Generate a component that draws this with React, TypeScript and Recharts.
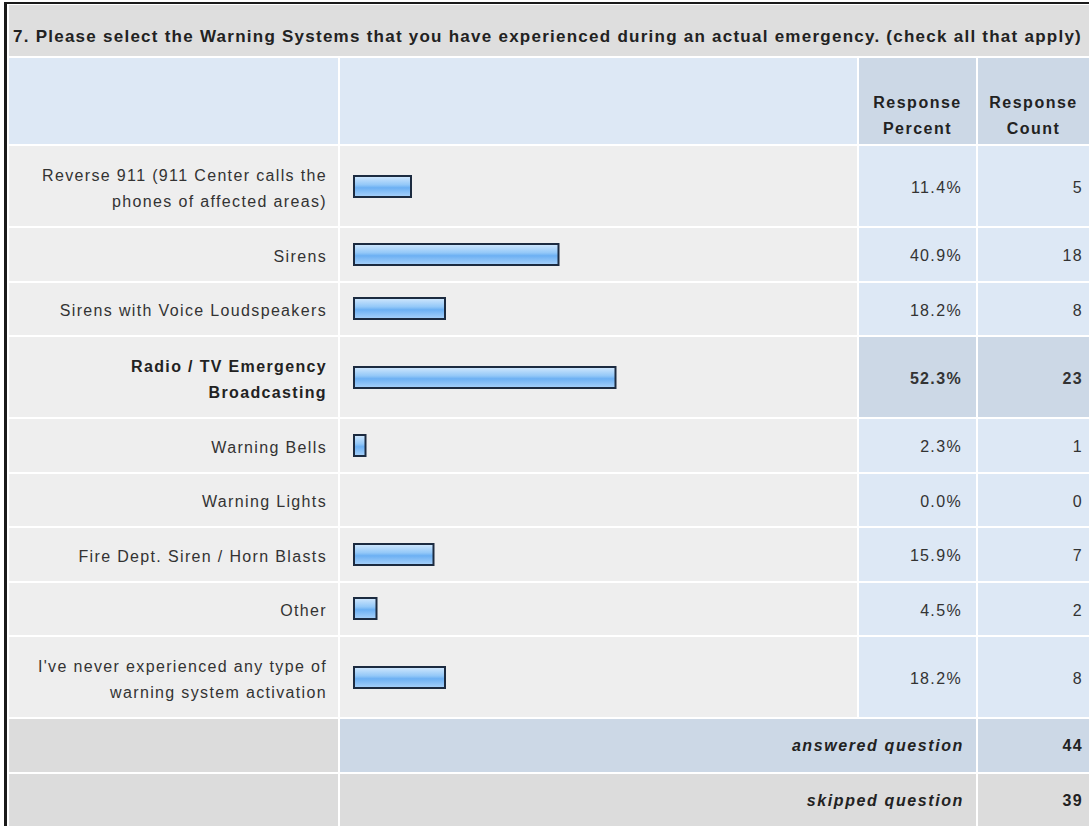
import React from 'react';
import { BarChart, Bar, XAxis, YAxis } from 'recharts';

const questionTitle =
  '7. Please select the Warning Systems that you have experienced during an actual emergency. (check all that apply)';

const categories = [
  'Reverse 911 (911 Center calls the\nphones of affected areas)',
  'Sirens',
  'Sirens with Voice Loudspeakers',
  'Radio / TV Emergency\nBroadcasting',
  'Warning Bells',
  'Warning Lights',
  'Fire Dept. Siren / Horn Blasts',
  'Other',
  "I've never experienced any type of\nwarning system activation",
];
const responsePercent = [11.4, 40.9, 18.2, 52.3, 2.3, 0.0, 15.9, 4.5, 18.2];
const responseCount = [5, 18, 8, 23, 1, 0, 7, 2, 8];
const highlightedIndex = 3;
const answeredCount = 44;
const skippedCount = 39;

const FONT = '"Liberation Sans", Arial, Helvetica, sans-serif';
const GAP = 2;
const W_LABEL = 329;
const W_BAR = 517;
const W_PCT = 117;
const W_CNT = 120;

const GREY = '#eeeeee';
const DARK_GREY = '#dcdcdc';
const LIGHT_BLUE = '#dde8f5';
const MID_BLUE = '#ccd8e6';

interface CellProps {
  w: number;
  h: number;
  bg: string;
  align?: 'left' | 'right' | 'center';
  bold?: boolean;
  italic?: boolean;
  valign?: 'center' | 'flex-end';
  pr?: number;
  pb?: number;
  pt?: number;
  children?: React.ReactNode;
}

const Cell: React.FC<CellProps> = ({ w, h, bg, align = 'right', bold, italic, valign = 'center', pr = 0, pb = 0, pt = 0, children }) => (
  <div
    style={{
      width: w,
      height: h,
      background: bg,
      display: 'flex',
      alignItems: valign,
      justifyContent: align === 'right' ? 'flex-end' : align === 'center' ? 'center' : 'flex-start',
      textAlign: align,
      paddingRight: pr,
      paddingBottom: pb,
      paddingTop: pt,
      boxSizing: 'border-box',
      fontWeight: bold ? 'bold' : 'normal',
      fontStyle: italic ? 'italic' : 'normal',
      whiteSpace: 'pre-line',
      flexShrink: 0,
    }}
  >
    {children}
  </div>
);

const Row: React.FC<{ children: React.ReactNode }> = ({ children }) => (
  <div style={{ display: 'flex', gap: GAP, marginBottom: GAP }}>{children}</div>
);

const ResponseBar: React.FC<{ label: string; value: number; h: number }> = ({ label, value, h }) => (
  <BarChart
    width={W_BAR}
    height={Math.round(h)}
    data={[{ label, percent: value }]}
    layout="vertical"
    margin={{ top: 0, right: 3, bottom: 0, left: 14 }}
  >
    <XAxis type="number" domain={[0, 100]} hide />
    <YAxis type="category" dataKey="label" hide />
    <Bar
      dataKey="percent"
      barSize={21}
      fill="url(#surveyBarGrad)"
      stroke="#1c2b40"
      strokeWidth={2}
      isAnimationActive={false}
    />
  </BarChart>
);

export default function App() {
  return (
    <div
      style={{
        position: 'absolute',
        left: 0,
        top: 0,
        width: 1089,
        height: 826,
        overflow: 'hidden',
        background: '#ffffff',
        fontFamily: FONT,
        fontSize: 16,
        letterSpacing: 1.35,
        color: '#333333',
      }}
    >
      <svg width={0} height={0} style={{ position: 'absolute' }}>
        <defs>
          <linearGradient id="surveyBarGrad" x1="0" y1="0" x2="0" y2="1">
            <stop offset="0%" stopColor="#d2e8fd" />
            <stop offset="42%" stopColor="#93c8f8" />
            <stop offset="56%" stopColor="#6cb0f3" />
            <stop offset="100%" stopColor="#a9d2fa" />
          </linearGradient>
        </defs>
      </svg>
      <div
        style={{
          position: 'absolute',
          left: 4,
          top: 2,
          width: 1200,
          height: 900,
          borderTop: '2px solid #1a1a1a',
          borderLeft: '3px solid #1a1a1a',
          paddingLeft: 2,
          paddingTop: 1,
        }}
      >
        <Row>
          <Cell w={1200} h={51} bg="#dedede" align="left" bold pt={12}>
            <span style={{ paddingLeft: 4, color: '#222', fontSize: 17, letterSpacing: 1.25 }}>{questionTitle}</span>
          </Cell>
        </Row>
        <Row>
          <Cell w={W_LABEL} h={86} bg={LIGHT_BLUE} />
          <Cell w={W_BAR} h={86} bg={LIGHT_BLUE} />
          <Cell w={W_PCT} h={86} bg={MID_BLUE} align="center" bold valign="flex-end" pb={2}>
            <span style={{ lineHeight: '26px', color: '#222', letterSpacing: 1.5 }}>{'Response\nPercent'}</span>
          </Cell>
          <Cell w={W_CNT} h={86} bg={MID_BLUE} align="left" bold valign="flex-end" pb={2}>
            <span style={{ lineHeight: '26px', color: '#222', width: 111, textAlign: 'center', letterSpacing: 1.5 }}>
              {'Response\nCount'}
            </span>
          </Cell>
        </Row>
        {categories.map((cat, i) => {
          const h = cat.includes('\n') ? 80 : 52.5;
          const hl = i === highlightedIndex;
          return (
            <Row key={cat}>
              <Cell w={W_LABEL} h={h} bg={GREY} bold={hl} pr={11} pt={5}>
                <span style={{ lineHeight: '26px', color: hl ? '#222' : '#333' }}>{cat}</span>
              </Cell>
              <Cell w={W_BAR} h={h} bg={GREY} align="left">
                <ResponseBar label={cat} value={responsePercent[i]} h={h} />
              </Cell>
              <Cell w={W_PCT} h={h} bg={hl ? MID_BLUE : LIGHT_BLUE} bold={hl} pr={14} pt={4}>
                {responsePercent[i].toFixed(1) + '%'}
              </Cell>
              <Cell w={W_CNT} h={h} bg={hl ? MID_BLUE : LIGHT_BLUE} bold={hl} align="left" pt={4}>
                <span style={{ width: 105, textAlign: 'right' }}>{responseCount[i]}</span>
              </Cell>
            </Row>
          );
        })}
        <Row>
          <Cell w={W_LABEL} h={52.5} bg={DARK_GREY} />
          <Cell w={W_BAR + GAP + W_PCT} h={52.5} bg={MID_BLUE} bold italic pr={12} pt={2}>
            <span style={{ color: '#222', letterSpacing: 1.6 }}>answered question</span>
          </Cell>
          <Cell w={W_CNT} h={52.5} bg={MID_BLUE} bold align="left" pt={2}>
            <span style={{ width: 105, textAlign: 'right', color: '#222' }}>{answeredCount}</span>
          </Cell>
        </Row>
        <Row>
          <Cell w={W_LABEL} h={52.5} bg={DARK_GREY} />
          <Cell w={W_BAR + GAP + W_PCT} h={52.5} bg={DARK_GREY} bold italic pr={12} pt={2}>
            <span style={{ color: '#222', letterSpacing: 1.6 }}>skipped question</span>
          </Cell>
          <Cell w={W_CNT} h={52.5} bg={DARK_GREY} bold align="left" pt={2}>
            <span style={{ width: 105, textAlign: 'right', color: '#222' }}>{skippedCount}</span>
          </Cell>
        </Row>
      </div>
    </div>
  );
}
